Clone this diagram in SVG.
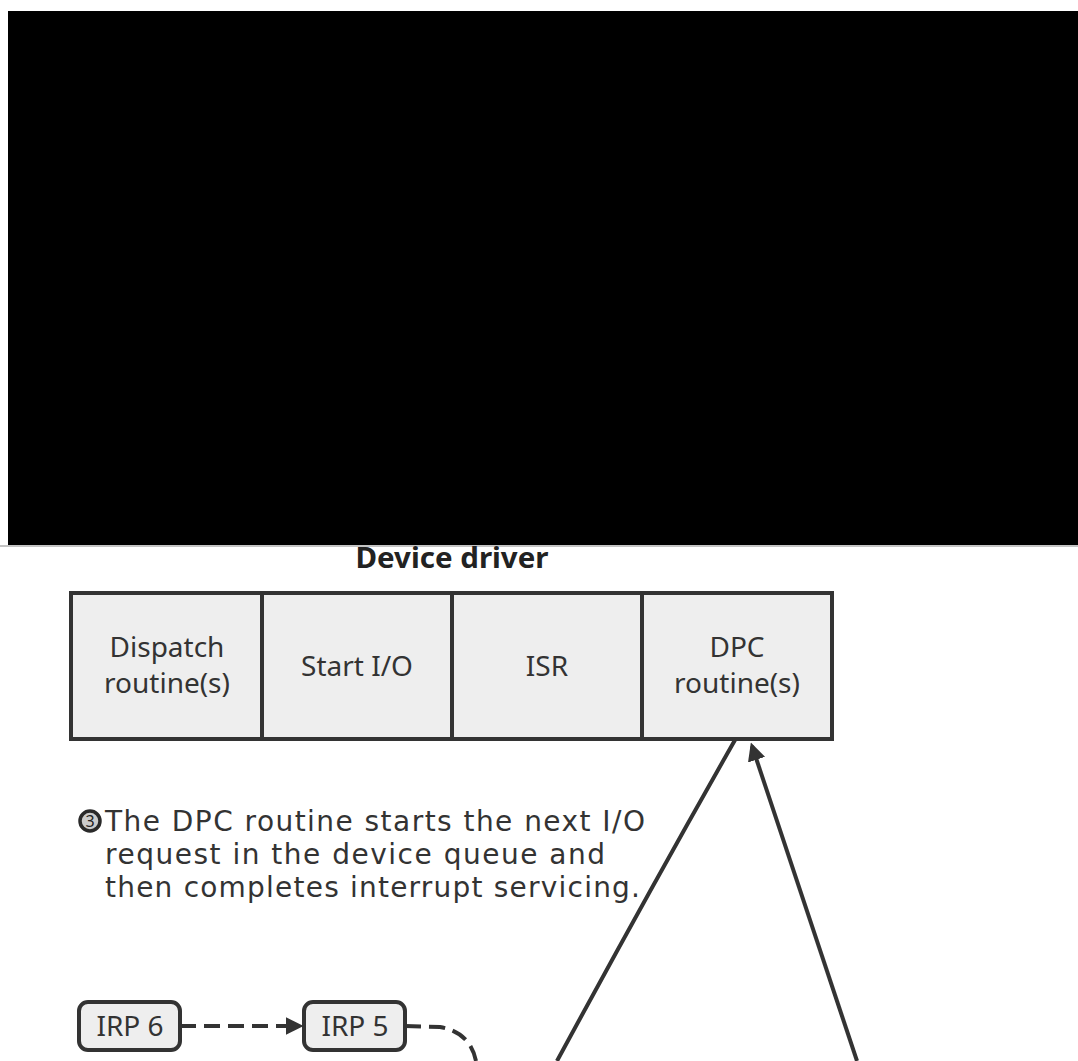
<svg xmlns="http://www.w3.org/2000/svg" width="1078" height="1061" viewBox="0 0 1078 1061">
<style>
.lbl{font-family:"Noto Sans","Liberation Sans",sans-serif;font-size:28px;fill:#333;text-anchor:middle}
.note{font-family:"DejaVu Sans","Liberation Sans",sans-serif;font-size:28px;fill:#333}
.cell{fill:#eeeeee;stroke:#333;stroke-width:4}
.irp{fill:#eeeeee;stroke:#333;stroke-width:4}
.ln{fill:none;stroke:#333;stroke-width:4}
.dash{fill:none;stroke:#333;stroke-width:4;stroke-dasharray:16 8}
</style>
<defs>
<marker id="ah" viewBox="0 0 10 10" refX="8" refY="5" markerWidth="4.5" markerHeight="4.5" orient="auto" markerUnits="strokeWidth">
<path d="M0,0 L10,5 L0,10 z" fill="#333"/>
</marker>
</defs>
<rect x="0" y="0" width="1078" height="1061" fill="#fff"/>
<rect id="blackout" x="8" y="11" width="1070" height="534" fill="#000"/>
<line x1="0" y1="546" x2="1078" y2="546" stroke="#888" stroke-width="1"/>
<g id="title"><text x="452" y="568" style="font-family:'Noto Sans','Liberation Sans',sans-serif;font-size:28px;font-weight:bold;fill:#222;text-anchor:middle" textLength="193" lengthAdjust="spacingAndGlyphs">Device driver</text></g>
<g id="dispatch"><rect class="cell" x="71" y="593" width="191" height="146"/><text class="lbl" x="167" y="657">Dispatch</text><text class="lbl" x="167" y="693">routine(s)</text></g>
<g id="startio"><rect class="cell" x="262" y="593" width="190" height="146"/><text class="lbl" x="357" y="676">Start I/O</text></g>
<g id="isr"><rect class="cell" x="452" y="593" width="190" height="146"/><text class="lbl" x="547" y="676">ISR</text></g>
<g id="dpc"><rect class="cell" x="642" y="593" width="190" height="146"/><text class="lbl" x="737" y="657">DPC</text><text class="lbl" x="737" y="693">routine(s)</text></g>
<g id="note">
<circle cx="90" cy="821" r="10" fill="#cccccc" stroke="#2a2a2a" stroke-width="3.5"/>
<text x="90" y="827" style="font-family:'Noto Sans',sans-serif;font-size:16px;fill:#222;text-anchor:middle">3</text>
<text class="note" x="105" y="831" textLength="540" lengthAdjust="spacing">The DPC routine starts the next I/O</text>
<text class="note" x="105" y="864" textLength="500" lengthAdjust="spacing">request in the device queue and</text>
<text class="note" x="105" y="897" textLength="535" lengthAdjust="spacing">then completes interrupt servicing.</text>
</g>
<g id="irp6"><rect class="irp" x="79" y="1002" width="101" height="48" rx="9"/><text class="lbl" x="130" y="1036">IRP 6</text></g>
<g id="irp5"><rect class="irp" x="304" y="1002" width="101" height="48" rx="9"/><text class="lbl" x="355" y="1036">IRP 5</text></g>
<g id="connectors">
<path class="dash" d="M180,1026 L300,1026" marker-end="url(#ah)"/>
<path class="dash" d="M405,1026 L440,1027 Q470,1032 476,1061"/>
<path class="ln" d="M735,740 Q648,893 557,1061"/>
<path class="ln" d="M857,1061 L752,746" marker-end="url(#ah)"/>
</g>
</svg>
